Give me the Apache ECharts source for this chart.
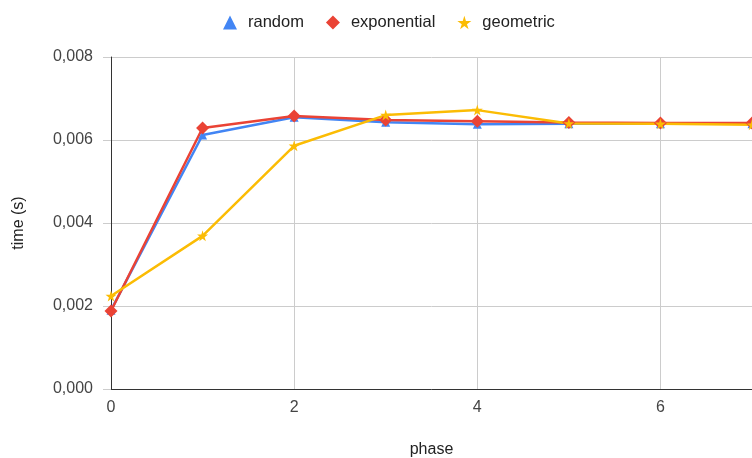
<!DOCTYPE html>
<html>
<head>
<meta charset="utf-8">
<script src="https://cdn.jsdelivr.net/npm/echarts@6/dist/echarts.min.js"></script>
<style>
  html, body { margin: 0; padding: 0; background: #fff; }
  #chart { width: 752px; height: 458px; }
</style>
</head>
<body>
<div id="chart"></div>
<script>
// phases 0..7
const phases = [0, 1, 2, 3, 4, 5, 6, 7]
const randomTimes = [0.00190, 0.00612, 0.00655, 0.00643, 0.00638, 0.00639, 0.00639, 0.00639]
const exponentialTimes = [0.00188, 0.00629, 0.00658, 0.00648, 0.00645, 0.00642, 0.00641, 0.00641]
const geometricTimes = [0.00224, 0.00369, 0.00586, 0.00660, 0.00672, 0.00640, 0.00639, 0.00637]

const STAR = 'path://M50,0 L61,35 L98,35 L68,57 L79,91 L50,70 L21,91 L32,57 L2,35 L39,35 Z'
const font = 'Liberation Sans, Arial, sans-serif'

const toPairs = (ys) => phases.map((x, i) => [x, ys[i]])

const chart = echarts.init(document.getElementById('chart'))

chart.setOption({
  animation: false,
  textStyle: { fontFamily: font },
  legend: {
    top: 9,
    left: 218,
    itemGap: 22,
    itemWidth: 14,
    itemHeight: 14,
    textStyle: { fontSize: 16.5, color: '#222', fontFamily: font, padding: [0, 0, 0, 6] },
    data: [
      { name: 'random', icon: 'triangle' },
      { name: 'exponential', icon: 'diamond' },
      { name: 'geometric', icon: STAR }
    ]
  },
  grid: { left: 111, right: 0, top: 57, bottom: 69, containLabel: false, outerBoundsMode: 'none' },
  xAxis: {
    type: 'value',
    min: 0,
    max: 7,
    interval: 2,
    name: 'phase',
    nameLocation: 'middle',
    nameGap: 53,
    nameTextStyle: { fontSize: 16, color: '#222', fontFamily: font },
    axisLine: { lineStyle: { color: '#333', width: 1 } },
    axisTick: { show: false },
    axisLabel: { fontSize: 16, color: '#444', margin: 11, fontFamily: font, showMaxLabel: false },
    splitLine: { show: true, lineStyle: { color: '#ccc', width: 1 } }
  },
  yAxis: {
    type: 'value',
    min: 0,
    max: 0.008,
    interval: 0.002,
    name: 'time (s)',
    nameLocation: 'middle',
    nameGap: 84,
    nameTextStyle: { fontSize: 16, color: '#222', fontFamily: font },
    axisLine: { show: true, lineStyle: { color: '#333', width: 1 } },
    axisTick: { show: true, length: 8, lineStyle: { color: '#ccc' } },
    axisLabel: {
      fontSize: 16,
      color: '#444',
      margin: 18,
      fontFamily: font,
      formatter: (v) => v.toFixed(3).replace('.', ',')
    },
    splitLine: { show: true, lineStyle: { color: '#ccc', width: 1 } }
  },
  series: [
    {
      name: 'random',
      type: 'line',
      data: toPairs(randomTimes),
      symbol: 'triangle',
      symbolSize: 9,
      color: '#4285f4',
      lineStyle: { width: 2.5 }
    },
    {
      name: 'exponential',
      type: 'line',
      data: toPairs(exponentialTimes),
      symbol: 'diamond',
      symbolSize: 13,
      color: '#ea4335',
      lineStyle: { width: 2.5 }
    },
    {
      name: 'geometric',
      type: 'line',
      data: toPairs(geometricTimes),
      symbol: STAR,
      symbolSize: 11,
      color: '#fbbc04',
      lineStyle: { width: 2.5 }
    }
  ]
})
</script>
</body>
</html>
